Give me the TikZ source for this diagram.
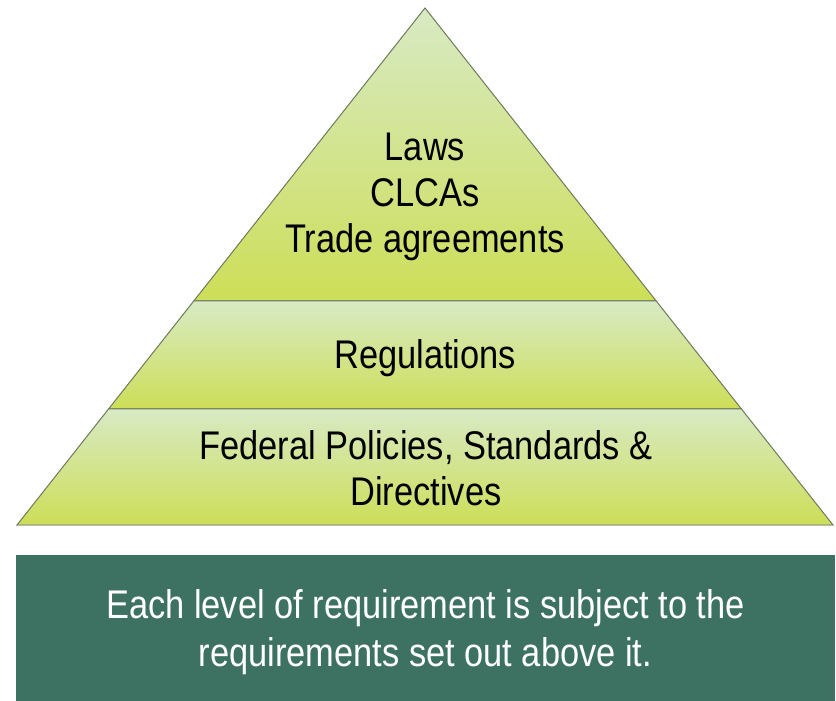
\documentclass[tikz,border=0pt]{standalone}
\usepackage{fontspec}
\setmainfont{Liberation Sans}[FakeStretch=0.86]
\usetikzlibrary{calc}
\definecolor{layertop}{RGB}{216,234,196}
\definecolor{layerbot}{RGB}{205,222,88}
\definecolor{layeredge}{RGB}{110,122,90}
\definecolor{notegreen}{RGB}{61,114,98}
\tikzset{
  layer/.style={top color=layertop, bottom color=layerbot, draw=layeredge, line width=1pt},
  levelname/.style={font=\fontsize{40}{46}\selectfont, align=center, text=black, inner sep=0pt},
  notebox/.style={fill=notegreen, minimum width=819pt, minimum height=146pt, inner sep=0pt},
  notetext/.style={text=white, inner sep=0pt, align=center, font=\fontsize{40}{48}\selectfont},
}

\begin{document}
\begin{tikzpicture}[x=1pt,y=-1pt]
\useasboundingbox (0,0) rectangle (836,701);

%Corners
\coordinate (apex) at (425,8);
\coordinate (baseL) at (17,525);
\coordinate (baseR) at (833,525);
\coordinate (topL) at ($(apex)!0.5667!(baseL)$);
\coordinate (topR) at ($(apex)!0.5667!(baseR)$);
\coordinate (midL) at ($(apex)!0.7756!(baseL)$);
\coordinate (midR) at ($(apex)!0.7756!(baseR)$);

%Layers
\path[layer] (apex) -- (topR) -- (topL) -- cycle;
\path[layer] (topL) -- (topR) -- (midR) -- (midL) -- cycle;
\path[layer] (midL) -- (midR) -- (baseR) -- (baseL) -- cycle;
\draw[gray!55, line width=1pt] (baseL) -- (baseR);

%Nodes
\node[levelname] (laws) at (425,197) {Laws\\CLCAs\\Trade agreements};
\node[levelname] (regs) at (425,358) {Regulations};
\node[levelname] (policies) at (426,468) {Federal Policies, Standards \&\\Directives};
\node[notebox] (note) at (425.5,628) {};
\node[notetext] (notetxt) at ([yshift=-4pt]note.center) {Each level of requirement is subject to the\\requirements set out above it.};
\end{tikzpicture}
\end{document}
